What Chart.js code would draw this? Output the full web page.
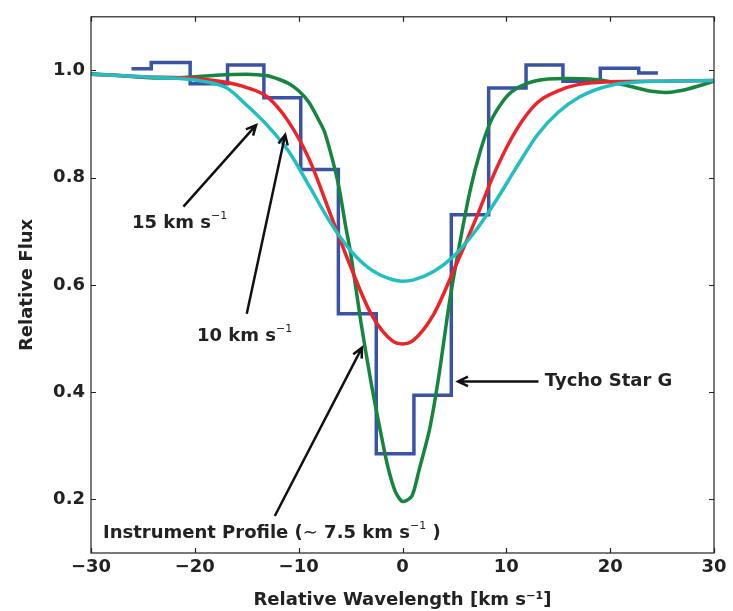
<!DOCTYPE html>
<html>
<head>
<meta charset="utf-8">
<script src="https://cdn.jsdelivr.net/npm/chart.js@4.4.1/dist/chart.umd.min.js"></script>
<style>
  body { margin: 0; background: #fff; }
  #wrap { width: 733px; height: 611px; }
</style>
</head>
<body>
<div id="wrap"><canvas id="myChart" width="733" height="611"></canvas></div>
<script>
// tick labels
const velocityTicks = [-30, -20, -10, 0, 10, 20, 30];
const fluxTicks = [0.2, 0.4, 0.6, 0.8, 1.0];

// Tycho Star G spectrum (binned, drawn as steps)
const tychoVel = [-26.1, -22.3, -18.6, -15.1, -11.6, -8.0, -4.35, -0.7, 2.9, 6.5, 10.1, 13.7, 17.2, 20.9, 24.6];
const tychoFlux = [1.003, 1.015, 0.975, 1.01, 0.949, 0.815, 0.546, 0.285, 0.394, 0.731, 0.967, 1.01, 0.98, 1.004, 0.995];

// 15 km/s model
const cyanVel = [-30, -25, -20, -17, -15, -13, -11, -9, -7, -5, -3, -1, 0, 1, 3, 5, 7, 9, 11, 13, 15, 17, 20, 25, 30];
const cyanFlux = [0.993, 0.988, 0.982, 0.968, 0.935, 0.897, 0.850, 0.785, 0.718, 0.664, 0.628, 0.610, 0.607, 0.609, 0.625, 0.655, 0.700, 0.757, 0.820, 0.880, 0.922, 0.950, 0.972, 0.980, 0.981];

// 10 km/s model
const redVel = [-30, -25, -20, -17, -15, -13, -11, -9, -7, -5, -3, -1, 0, 1, 3, 5, 7, 9, 11, 13, 15, 17, 20, 25, 30];
const redFlux = [0.993, 0.988, 0.985, 0.978, 0.968, 0.950, 0.905, 0.835, 0.735, 0.634, 0.545, 0.496, 0.490, 0.496, 0.545, 0.630, 0.720, 0.815, 0.890, 0.940, 0.962, 0.974, 0.979, 0.980, 0.981];

// instrument profile
const instVel = [-30, -27, -24, -21, -18, -15, -13, -12, -11, -10, -9, -8, -7.5, -6.5, -6, -5.5, -5, -4, -3, -2, -1.4, -0.7, 0, 0.9, 1.6, 2.6, 3.5, 4.5, 5.5, 6.5, 7.5, 8.5, 9.5, 10.5, 12, 14, 16, 18, 20, 22, 24, 25.5, 27, 28.5, 30];
const instFlux = [0.994, 0.990, 0.986, 0.987, 0.991, 0.993, 0.990, 0.984, 0.976, 0.962, 0.940, 0.905, 0.885, 0.815, 0.770, 0.712, 0.660, 0.530, 0.415, 0.315, 0.260, 0.215, 0.196, 0.206, 0.255, 0.330, 0.430, 0.565, 0.676, 0.775, 0.850, 0.905, 0.938, 0.960, 0.976, 0.984, 0.985, 0.984, 0.979, 0.970, 0.961, 0.959, 0.963, 0.971, 0.980];

// text notes with arrows (in data units)
const notes = [
  { parts: [['15 km s', 'b'], ['\u22121', 's']], at: [-26.05, 0.715], tail: [-21.1, 0.746], head: [-14.1, 0.898] },
  { parts: [['10 km s', 'b'], ['\u22121', 's']], at: [-19.8, 0.504], tail: [-15.0, 0.546], head: [-11.3, 0.88] },
  { parts: [['Instrument Profile (', 'b'], ['\u223c', 'n'], [' 7.5 km s', 'b'], ['\u22121', 's'], [' )', 'b']], at: [-28.85, 0.137], tail: [-12.3, 0.169], head: [-3.9, 0.483] },
  { parts: [['Tycho Star G', 'b']], at: [13.7, 0.42], tail: [13.1, 0.42], head: [5.35, 0.42] }
];

const FONT = 'DejaVu Sans';

function pairs(xs, ys) {
  return xs.map((x, i) => ({ x: x, y: ys[i] }));
}

function drawParts(ctx, parts, x, y) {
  ctx.textBaseline = 'middle';
  ctx.textAlign = 'left';
  parts.forEach(p => {
    let dy = 0;
    if (p[1] === 'b') ctx.font = 'bold 18px ' + FONT;
    else if (p[1] === 'n') ctx.font = '18px ' + FONT;
    else { ctx.font = '11px ' + FONT; dy = -7; }
    ctx.fillText(p[0], x, y + dy);
    x += ctx.measureText(p[0]).width;
  });
}

const extras = {
  id: 'extras',
  afterDatasetsDraw(chart) {
    const ctx = chart.ctx;
    const xs = chart.scales.x, ys = chart.scales.y;
    const a = chart.chartArea;
    ctx.save();

    // frame + inward ticks on all sides
    ctx.strokeStyle = '#222';
    ctx.lineWidth = 1.2;
    ctx.strokeRect(a.left, a.top, a.right - a.left, a.bottom - a.top);
    ctx.beginPath();
    velocityTicks.forEach(v => {
      const px = Math.round(xs.getPixelForValue(v)) + 0.5;
      ctx.moveTo(px, a.bottom); ctx.lineTo(px, a.bottom - 5);
      ctx.moveTo(px, a.top); ctx.lineTo(px, a.top + 5);
    });
    fluxTicks.forEach(v => {
      const py = Math.round(ys.getPixelForValue(v)) + 0.5;
      ctx.moveTo(a.left, py); ctx.lineTo(a.left + 5, py);
      ctx.moveTo(a.right, py); ctx.lineTo(a.right - 5, py);
    });
    ctx.stroke();

    // arrows and labels
    ctx.strokeStyle = '#111';
    ctx.fillStyle = '#222';
    notes.forEach(n => {
      const x0 = xs.getPixelForValue(n.tail[0]), y0 = ys.getPixelForValue(n.tail[1]);
      const x1 = xs.getPixelForValue(n.head[0]), y1 = ys.getPixelForValue(n.head[1]);
      const ang = Math.atan2(y1 - y0, x1 - x0);
      ctx.lineWidth = 2.5;
      ctx.beginPath();
      ctx.moveTo(x0, y0); ctx.lineTo(x1, y1);
      ctx.moveTo(x1 - 11 * Math.cos(ang - 0.45), y1 - 11 * Math.sin(ang - 0.45));
      ctx.lineTo(x1, y1);
      ctx.lineTo(x1 - 11 * Math.cos(ang + 0.45), y1 - 11 * Math.sin(ang + 0.45));
      ctx.stroke();
      drawParts(ctx, n.parts, xs.getPixelForValue(n.at[0]), ys.getPixelForValue(n.at[1]));
    });
    ctx.restore();
  }
};

const curve = (label, xs, ys, color, order) => ({
  label: label,
  data: pairs(xs, ys),
  borderColor: color,
  borderWidth: 3.5,
  pointRadius: 0,
  cubicInterpolationMode: 'monotone',
  fill: false,
  order: order
});

const instCurve = curve('Instrument Profile', instVel, instFlux, '#168540', 3);
instCurve.cubicInterpolationMode = 'default';
instCurve.tension = 0.25;

new Chart('myChart', {
  type: 'line',
  data: {
    datasets: [
      {
        label: 'Tycho Star G',
        data: pairs(tychoVel, tychoFlux),
        borderColor: '#3b53a5',
        borderWidth: 3.5,
        borderJoinStyle: 'miter',
        pointRadius: 0,
        stepped: 'middle',
        fill: false,
        order: 4
      },
      instCurve,
      curve('10 km/s', redVel, redFlux, '#ee2228', 2),
      curve('15 km/s', cyanVel, cyanFlux, '#21bfc0', 1)
    ]
  },
  options: {
    responsive: false,
    animation: false,
    layout: { padding: { top: 13, right: 19, left: 0, bottom: 0 } },
    plugins: { legend: { display: false }, tooltip: { enabled: false } },
    scales: {
      x: {
        type: 'linear',
        min: -30,
        max: 30,
        grid: { display: false, drawTicks: false },
        border: { display: false },
        afterBuildTicks: s => { s.ticks = velocityTicks.map(v => ({ value: v })); },
        afterFit: s => { s.height = 58; },
        ticks: {
          padding: 4,
          color: '#222',
          font: { family: FONT, size: 18, weight: 'bold' },
          callback: v => v < 0 ? '\u2212' + Math.abs(v) : String(v)
        },
        title: {
          display: true,
          text: 'Relative Wavelength [km s\u207b\u00b9]',
          color: '#222',
          padding: { top: 0, bottom: 0 },
          font: { family: FONT, size: 18, weight: 'bold' }
        }
      },
      y: {
        min: 0.1,
        max: 1.1,
        grid: { display: false, drawTicks: false },
        border: { display: false },
        afterBuildTicks: s => { s.ticks = fluxTicks.map(v => ({ value: v })); },
        afterFit: s => { s.width = 91; },
        ticks: {
          padding: 6,
          color: '#222',
          font: { family: FONT, size: 18, weight: 'bold' },
          callback: v => v.toFixed(1)
        },
        title: {
          display: true,
          text: 'Relative Flux',
          color: '#222',
          padding: { top: 17, bottom: 0 },
          font: { family: FONT, size: 18, weight: 'bold' }
        }
      }
    }
  },
  plugins: [extras]
});
</script>
</body>
</html>
